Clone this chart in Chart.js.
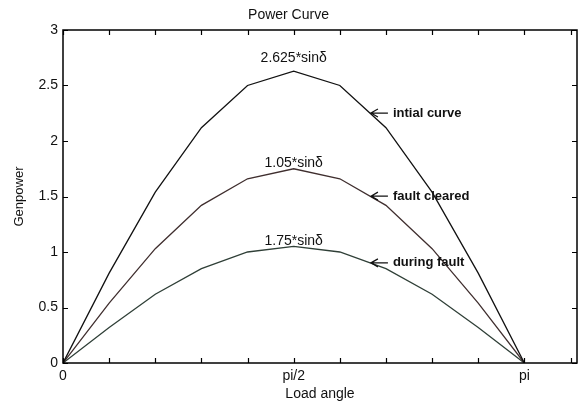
<!DOCTYPE html>
<html>
<head>
<meta charset="utf-8">
<script src="https://cdn.jsdelivr.net/npm/chart.js@4.4.1/dist/chart.umd.min.js"></script>
<style>
  html, body { margin: 0; padding: 0; background: #fff; }
  #wrap { width: 581px; height: 401px; }
</style>
</head>
<body>
<div id="wrap"><canvas id="c" width="581" height="401"></canvas></div>
<script>
// Load angle (rad) and generated power for the three network conditions
const loadAngle    = [0, 0.3142, 0.6283, 0.9425, 1.2566, 1.5708, 1.8850, 2.1991, 2.5133, 2.8274, 3.1416];
const initialCurve = [0, 0.81, 1.54, 2.12, 2.50, 2.63, 2.50, 2.12, 1.54, 0.81, 0];
const faultCleared = [0, 0.54, 1.03, 1.42, 1.66, 1.75, 1.66, 1.42, 1.03, 0.54, 0];
const duringFault  = [0, 0.32, 0.62, 0.85, 1.00, 1.05, 1.00, 0.85, 0.62, 0.32, 0];

const curveNames  = ['intial curve', 'fault cleared', 'during fault'];
const peakLabels  = ['2.625*sin\u03b4', '1.05*sin\u03b4', '1.75*sin\u03b4'];

// Axis ticks
const xTickValues = [0, 0.3142, 0.6283, 0.9425, 1.2566, 1.5708, 1.8850, 2.1991, 2.5133, 2.8274, 3.1416, 3.4558];
const xTickLabels = ['0', '', '', '', '', 'pi/2', '', '', '', '', 'pi', ''];
const yTickValues = [0, 0.5, 1, 1.5, 2, 2.5, 3];

const FONT = 'Liberation Sans, Arial, Helvetica, sans-serif';
const INK = '#111';
const seriesColors = ['#111111', '#3f2e2e', '#2f3f37'];
const seriesData = [initialCurve, faultCleared, duringFault];

// Pixel offsets of the sin labels above each peak, and where the arrows point
const peakLabelOffsets = [-13, -6, -5];
const arrowAngle = 2.09;

function valueAt(series, ang) {
  for (let i = 0; i < loadAngle.length - 1; i++) {
    if (ang >= loadAngle[i] && ang <= loadAngle[i + 1]) {
      const f = (ang - loadAngle[i]) / (loadAngle[i + 1] - loadAngle[i]);
      return series[i] + f * (series[i + 1] - series[i]);
    }
  }
  return 0;
}

// Box around the axes, inward ticks on all sides, and curve annotations
const framePlugin = {
  id: 'frame',
  afterDraw(chart) {
    const { ctx, chartArea: a, scales: { x, y } } = chart;
    ctx.save();
    ctx.strokeStyle = '#000';
    ctx.lineWidth = 1.5;
    ctx.strokeRect(a.left, a.top, a.right - a.left, a.bottom - a.top);

    ctx.lineWidth = 1.2;
    const t = 5;
    ctx.beginPath();
    x.ticks.forEach(tk => {
      const px = Math.round(x.getPixelForValue(tk.value)) + 0.5;
      ctx.moveTo(px, a.bottom); ctx.lineTo(px, a.bottom - t);
      ctx.moveTo(px, a.top);    ctx.lineTo(px, a.top + t);
    });
    y.ticks.forEach(tk => {
      const py = Math.round(y.getPixelForValue(tk.value)) + 0.5;
      ctx.moveTo(a.left, py);  ctx.lineTo(a.left + t, py);
      ctx.moveTo(a.right, py); ctx.lineTo(a.right - t, py);
    });
    ctx.stroke();

    // sin labels above the peaks
    ctx.fillStyle = INK;
    ctx.font = '14px ' + FONT;
    ctx.textAlign = 'center';
    ctx.textBaseline = 'middle';
    seriesData.forEach((s, i) => {
      const px = x.getPixelForValue(loadAngle[5]);
      const py = y.getPixelForValue(s[5]) + peakLabelOffsets[i];
      ctx.fillText(peakLabels[i], px, py);
    });

    // arrows with curve names
    ctx.font = 'bold 13px ' + FONT;
    ctx.textAlign = 'left';
    ctx.lineWidth = 1.2;
    ctx.strokeStyle = INK;
    seriesData.forEach((s, i) => {
      const tx = x.getPixelForValue(arrowAngle) + 1;
      const ty = y.getPixelForValue(valueAt(s, arrowAngle));
      ctx.beginPath();
      ctx.moveTo(tx, ty); ctx.lineTo(tx + 17, ty);
      ctx.moveTo(tx + 7, ty - 4); ctx.lineTo(tx, ty); ctx.lineTo(tx + 7, ty + 4);
      ctx.stroke();
      ctx.fillText(curveNames[i], tx + 22, ty);
    });
    ctx.restore();
  }
};

const datasets = seriesData.map((s, i) => ({
  label: curveNames[i],
  data: loadAngle.map((ang, k) => ({ x: ang, y: s[k] })),
  borderColor: seriesColors[i],
  backgroundColor: seriesColors[i],
  borderWidth: 1.3,
  pointRadius: 0,
  tension: 0,
  fill: false
}));

new Chart(document.getElementById('c'), {
  type: 'line',
  data: { datasets },
  plugins: [framePlugin],
  options: {
    responsive: false,
    animation: false,
    layout: { padding: { left: 0, right: 4, top: 0, bottom: 0 } },
    plugins: {
      legend: { display: false },
      tooltip: { enabled: false },
      title: {
        display: true,
        text: 'Power Curve',
        color: INK,
        font: { family: FONT, size: 14, weight: 'normal', lineHeight: 1.2 },
        padding: { top: 6.6, bottom: 6.6 }
      }
    },
    scales: {
      x: {
        type: 'linear',
        min: 0,
        max: 3.5,
        grid: { display: false, drawTicks: false },
        border: { display: false },
        afterBuildTicks: s => { s.ticks = xTickValues.map(v => ({ value: v })); },
        afterFit: s => { s.height = 38; },
        ticks: {
          autoSkip: false,
          maxRotation: 0,
          padding: 5,
          color: INK,
          font: { family: FONT, size: 14 },
          callback: (v, i) => xTickLabels[i]
        },
        title: {
          display: true,
          text: 'Load angle',
          color: INK,
          font: { family: FONT, size: 14, lineHeight: 1.0 },
          padding: { top: 0, bottom: 0 }
        }
      },
      y: {
        type: 'linear',
        min: 0,
        max: 3,
        grid: { display: false, drawTicks: false },
        border: { display: false },
        afterBuildTicks: s => { s.ticks = yTickValues.map(v => ({ value: v })); },
        afterFit: s => { s.width = 63; },
        ticks: {
          padding: 5,
          color: INK,
          font: { family: FONT, size: 14 },
          callback: v => String(v)
        },
        title: {
          display: true,
          text: 'Genpower',
          color: INK,
          font: { family: FONT, size: 13 },
          padding: { top: 12, bottom: 0 }
        }
      }
    }
  }
});
</script>
</body>
</html>
